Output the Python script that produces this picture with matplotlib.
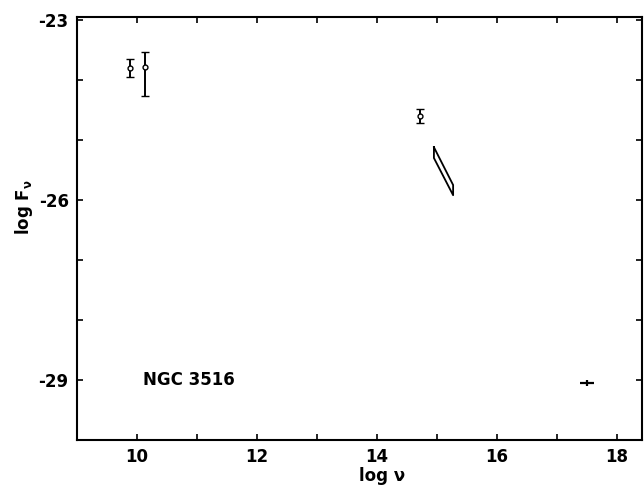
"""Spectral energy distribution of NGC 3516 (log F_nu vs log nu)."""

import matplotlib

matplotlib.use("Agg")
import matplotlib.pyplot as plt
import numpy as np
from matplotlib.ticker import MultipleLocator

plt.rcParams["font.family"] = ["DejaVu Sans"]
plt.rcParams["mathtext.fontset"] = "dejavusans"
plt.rcParams["mathtext.default"] = "bf"

# radio / optical points with error bars
log_nu = [9.88, 10.13, 14.72]
log_f = [-23.80, -23.78, -24.60]
err_lo = [0.15, 0.48, 0.12]
err_hi = [0.15, 0.25, 0.12]

# optical-UV spectral band (parallelogram outline)
band_x = [14.95, 15.27, 15.27, 14.95, 14.95]
band_y = [-25.12, -25.75, -25.92, -25.30, -25.12]

# X-ray point
xray_nu = [17.5]
xray_f = [-29.05]
xray_xerr = [0.12]
xray_yerr = [0.05]

fig = plt.figure(figsize=(6.44, 4.92), dpi=100)
ax = fig.add_axes([0.1196, 0.1057, 0.8774, 0.8597])

ax.errorbar(log_nu, log_f, yerr=[err_lo, err_hi], fmt="o", ms=3.5,
            mfc="white", mec="black", mew=1.0, ecolor="black",
            elinewidth=1.4, capsize=3, capthick=1.4)
ax.plot(band_x, band_y, color="black", lw=1.3)
ax.errorbar(xray_nu, xray_f, xerr=xray_xerr, yerr=xray_yerr, fmt="none",
            ecolor="black", elinewidth=1.6, capsize=0)

ax.text(10.1, -29.0, "NGC 3516", fontsize=12, fontweight="bold",
        va="center", ha="left")

ax.set_xlim(9.0, 18.42)
ax.set_ylim(-30.0, -22.95)
ax.xaxis.set_major_locator(MultipleLocator(1))
ax.yaxis.set_major_locator(MultipleLocator(1))

xt = np.arange(10, 19, 1)
ax.set_xticks(xt)
ax.set_xticklabels([str(v) if v % 2 == 0 else "" for v in xt])
yt = np.arange(-30, -22, 1)
ax.set_yticks(yt)
ax.set_yticklabels([str(v) if v in (-23, -26, -29) else "" for v in yt])

ax.tick_params(direction="in", length=4, width=1.2, top=True, right=True,
               labelsize=12, pad=6)
for lab in ax.get_xticklabels() + ax.get_yticklabels():
    lab.set_fontweight("bold")
for sp in ax.spines.values():
    sp.set_linewidth(1.5)

ax.set_xlabel("log ν", fontsize=12, fontweight="bold")
ax.set_ylabel(r"log F$_{ν}$", fontsize=12, fontweight="bold")
ax.xaxis.set_label_coords(0.54, -0.063)
ax.yaxis.set_label_coords(-0.074, 0.55)

fig.savefig("out.png", dpi=100)
